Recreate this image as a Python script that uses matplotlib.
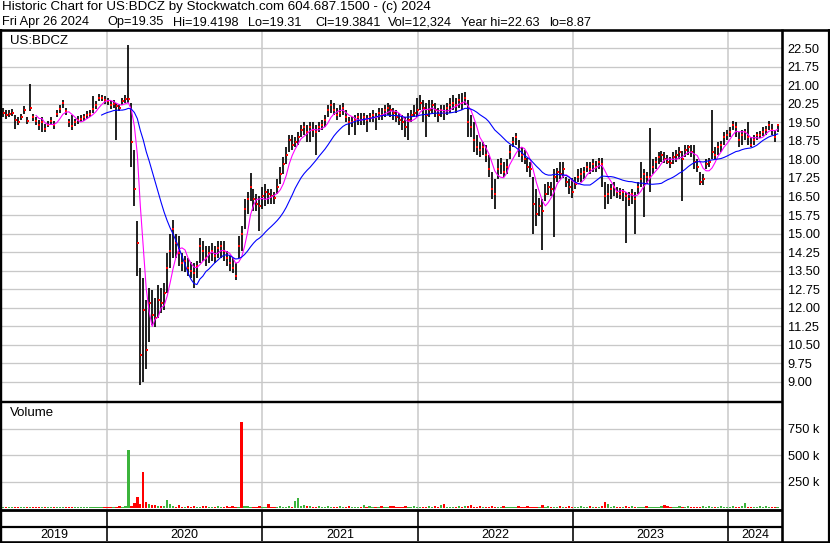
import numpy as np
import pandas as pd
import matplotlib
matplotlib.use("Agg")
import matplotlib.pyplot as plt
import matplotlib.dates as mdates

plt.rcParams['font.family'] = ['Liberation Sans', 'DejaVu Sans']

# ---------------- data (weekly) ----------------
first_week = "2019-05-03"

closes = [
    19.9, 19.8, 19.85, 19.9, 19.6, 19.5, 19.7, 20.0, 19.55, 20.1,
    19.7, 19.55, 19.4, 19.5, 19.25, 19.4, 19.55, 19.4, 19.85, 20.05,
    20.3, 19.95, 19.5, 19.35, 19.5, 19.6, 19.65, 19.7, 19.8, 19.85,
    20.05, 20.2, 20.5, 20.5, 20.4, 20.35, 20.2, 20.25, 20.15, 20.1,
    20.35, 20.45, 20.45, 18.7, 16.8, 14.6, 10.1, 11.9, 10.3, 12.2,
    11.7, 11.6, 12.3, 12.2, 12.6, 13.6, 14.3, 15.2, 14.6, 14.2,
    13.8, 13.9, 13.6, 13.5, 13.4, 13.7, 14.5, 14.3, 14.0, 14.2,
    14.3, 14.1, 14.4, 14.5, 14.3, 14.0, 13.8, 13.6, 13.3, 14.5,
    15.0, 16.0, 16.4, 16.9, 16.4, 16.2, 16.1, 16.5, 16.7, 16.6,
    16.5, 16.45, 16.9, 17.4, 17.8, 18.2, 18.8, 18.6, 18.7, 18.9,
    19.2, 19.3, 19.1, 19.3, 19.2, 19.1, 19.3, 19.4, 19.6, 20.0,
    20.2, 20.0, 19.8, 19.9, 20.1, 19.7, 19.5, 19.5, 19.6, 19.7,
    19.6, 19.7, 19.6, 19.7, 19.8, 19.7, 19.9, 19.8, 20.0, 20.1,
    20.0, 19.9, 19.7, 19.6, 19.5, 19.3, 19.6, 19.8, 19.9, 20.0,
    20.3, 20.1, 19.8, 20.0, 20.2, 20.0, 19.8, 20.0, 19.9, 20.1,
    20.2, 20.3, 20.2, 20.4, 20.3, 20.5, 19.5, 19.3, 18.8, 18.5,
    18.4, 18.5, 18.2, 17.6, 16.8, 16.6, 17.6, 17.8, 17.5, 17.7,
    18.3, 18.7, 18.9, 18.4, 18.2, 18.0, 17.7, 17.6, 16.2, 15.8,
    16.1, 15.9, 16.6, 16.9, 16.8, 17.3, 17.5, 17.4, 17.6, 17.1,
    16.9, 16.7, 17.0, 17.3, 17.4, 17.5, 17.7, 17.6, 17.8, 17.7,
    17.9, 17.8, 16.5, 16.6, 16.8, 16.9, 16.7, 16.6, 16.7, 16.5,
    16.4, 16.6, 16.4, 16.9, 17.2, 17.4, 17.3, 17.3, 17.7, 17.9,
    18.1, 18.2, 18.0, 17.9, 17.85, 18.1, 18.2, 18.3, 18.0, 18.4,
    18.5, 18.3, 17.9, 17.7, 17.1, 17.2, 17.8, 17.9, 18.3, 18.2,
    18.5, 18.6, 18.9, 19.0, 19.1, 19.4, 19.3, 18.8, 19.0, 19.1,
    18.9, 18.6, 18.8, 19.0, 19.0, 19.1, 19.2, 19.4, 19.2, 18.9,
    19.38,
]

highs = [
    20.1, 20.0, 20.0, 20.05, 19.8, 19.7, 19.85, 20.15, 19.7, 21.05,
    19.85, 19.7, 19.6, 19.7, 19.45, 19.55, 19.7, 19.55, 20.0, 20.2,
    20.4, 20.1, 19.65, 19.8, 19.65, 19.75, 19.8, 19.85, 19.95, 20.0,
    20.57, 20.35, 20.65, 20.6, 20.55, 20.5, 20.35, 20.4, 20.3, 20.25,
    20.5, 20.6, 22.63, 20.3, 18.4, 15.5, 13.6, 13.2, 12.3, 12.8,
    12.7, 12.4, 12.9, 12.8, 13.0, 14.2, 15.0, 15.55, 15.0, 14.9,
    14.2, 14.1, 14.0, 13.85, 13.8, 13.9, 14.8, 14.7, 14.5, 14.5,
    14.6, 14.5, 14.7, 14.7, 14.7, 14.3, 14.1, 14.0, 13.8, 14.9,
    15.3, 16.4, 16.7, 17.45, 16.8, 16.6, 16.5, 16.9, 17.0, 16.8,
    16.8, 16.7, 17.2, 17.7, 18.1, 18.5, 19.0, 19.0, 18.9, 19.1,
    19.4, 19.5, 19.4, 19.5, 19.5, 19.4, 19.5, 19.6, 19.8, 20.2,
    20.4, 20.3, 20.1, 20.2, 20.3, 20.0, 19.7, 19.7, 19.8, 19.9,
    19.9, 19.9, 19.8, 19.9, 20.0, 19.9, 20.1, 20.1, 20.2, 20.3,
    20.2, 20.1, 20.0, 19.9, 19.8, 19.7, 19.9, 20.0, 20.2, 20.5,
    20.6, 20.4, 20.3, 20.4, 20.4, 20.3, 20.1, 20.2, 20.2, 20.3,
    20.5, 20.6, 20.5, 20.65, 20.7, 20.75, 20.4, 19.8, 19.5, 19.0,
    18.7, 18.7, 18.6, 18.2, 17.5, 17.2, 18.0, 18.05, 17.9, 18.0,
    18.6, 18.9, 19.07, 18.8, 18.5, 18.4, 18.05, 17.9, 17.3, 16.8,
    16.45, 16.4, 17.0, 17.1, 17.1, 17.6, 17.65, 17.9, 17.9, 17.3,
    17.2, 17.25, 17.3, 17.6, 17.65, 17.7, 17.9, 17.9, 18.0, 17.95,
    18.05, 18.05, 17.1, 17.0, 17.0, 17.1, 16.9, 16.85, 16.8, 16.7,
    16.7, 16.8, 16.7, 17.1, 17.9, 17.6, 17.5, 19.27, 18.0, 18.1,
    18.3, 18.35, 18.3, 18.2, 18.1, 18.3, 18.4, 18.5, 18.35, 18.6,
    18.6, 18.6, 18.58, 18.0, 17.5, 17.4, 18.0, 18.05, 20.0, 18.5,
    18.7, 18.75, 19.1, 19.2, 19.3, 19.55, 19.5, 19.1, 19.2, 19.25,
    19.5, 18.9, 19.0, 19.1, 19.15, 19.3, 19.35, 19.55, 19.45, 19.2,
    19.42,
]

lows = [
    19.7, 19.65, 19.7, 19.75, 19.25, 19.4, 19.6, 19.85, 19.45, 19.95,
    19.55, 19.4, 19.2, 19.1, 19.1, 19.3, 19.4, 19.25, 19.7, 19.9,
    20.1, 19.8, 19.3, 19.2, 19.35, 19.45, 19.5, 19.55, 19.65, 19.7,
    19.9, 20.05, 20.35, 20.35, 20.25, 20.2, 20.05, 20.1, 18.79, 19.95,
    20.2, 20.3, 20.3, 17.7, 16.1, 13.3, 8.87, 9.0, 9.5, 10.6,
    11.3, 11.2, 11.6, 11.8, 11.9, 12.6, 13.6, 14.0, 14.0, 13.7,
    13.5, 13.45, 13.3, 13.2, 12.8, 13.2, 13.8, 13.9, 13.7, 13.8,
    13.9, 13.8, 14.0, 14.0, 13.9, 13.7, 13.5, 13.4, 13.1, 14.0,
    14.3, 15.2, 15.8, 16.3, 15.9, 15.9, 15.1, 16.0, 16.1, 16.2,
    16.2, 16.2, 16.6, 17.0, 17.4, 17.8, 18.3, 18.4, 18.5, 18.6,
    18.9, 19.0, 18.7, 18.7, 18.9, 18.2, 19.1, 19.2, 19.3, 19.7,
    19.9, 19.8, 19.6, 19.7, 19.8, 19.5, 19.0, 19.3, 19.0, 19.4,
    19.4, 19.4, 19.1, 19.5, 19.5, 19.2, 19.6, 19.6, 19.7, 19.8,
    19.7, 19.6, 19.5, 19.4, 19.2, 18.9, 18.8, 19.5, 19.7, 19.7,
    20.0, 19.5, 18.9, 19.7, 19.9, 19.7, 19.5, 19.7, 19.6, 19.8,
    19.9, 20.0, 19.9, 20.1, 20.0, 20.2, 18.9, 18.9, 18.3, 18.2,
    18.1, 18.2, 17.9, 17.3, 16.4, 16.0, 17.2, 17.4, 17.3, 17.4,
    18.0, 18.5, 18.6, 18.1, 17.9, 17.8, 17.5, 17.3, 15.0, 15.3,
    15.7, 14.35, 16.3, 16.55, 16.5, 14.85, 17.1, 17.2, 17.25, 16.9,
    16.6, 16.45, 16.8, 17.1, 17.1, 17.2, 17.5, 17.4, 17.5, 17.5,
    17.6, 16.9, 16.0, 16.2, 16.4, 16.5, 16.45, 16.4, 16.3, 14.6,
    16.1, 16.2, 15.0, 16.6, 16.9, 15.67, 17.0, 16.7, 17.4, 17.6,
    17.8, 17.9, 17.85, 17.8, 17.65, 17.8, 17.9, 18.0, 16.3, 18.1,
    18.2, 18.1, 17.6, 17.5, 16.95, 16.95, 17.6, 17.7, 18.0, 18.0,
    18.2, 18.3, 18.6, 18.8, 18.9, 19.2, 18.9, 18.5, 18.6, 18.8,
    18.6, 18.5, 18.6, 18.8, 18.85, 18.95, 19.0, 19.2, 19.0, 18.7,
    19.1,
]

# daily-peak volumes shown per week, in thousands of shares
volumes_k = [
    8, 6, 10, 12, 9, 7, 11, 8, 10, 9,
    12, 7, 9, 11, 8, 10, 6, 9, 12, 8,
    7, 10, 9, 11, 8, 6, 10, 9, 7, 12,
    10, 8, 9, 11, 10, 12, 9, 14, 10, 18,
    11, 15, 551, 20, 51, 108, 40, 340, 60, 35,
    25, 30, 22, 18, 20, 80, 35, 15, 12, 25,
    14, 10, 16, 12, 18, 11, 13, 15, 20, 12,
    14, 10, 16, 13, 11, 18, 12, 15, 10, 14,
    811, 20, 15, 12, 14, 11, 16, 13, 12, 35,
    14, 12, 10, 15, 11, 13, 16, 12, 70, 98,
    20, 25, 15, 22, 14, 12, 16, 11, 13, 15,
    12, 14, 10, 16, 13, 11, 15, 12, 14, 10,
    13, 25, 12, 15, 11, 14, 10, 16, 12, 13,
    15, 20, 11, 14, 12, 16, 10, 13, 15, 12,
    14, 11, 13, 16, 12, 15, 10, 30, 40, 13,
    11, 14, 12, 16, 13, 15, 20, 30, 12, 14,
    16, 11, 13, 12, 15, 14, 10, 13, 16, 12,
    11, 14, 12, 15, 13, 10, 16, 12, 14, 11,
    13, 25, 12, 15, 11, 14, 10, 16, 12, 13,
    15, 11, 14, 12, 16, 10, 13, 15, 12, 14,
    11, 20, 54, 38, 12, 15, 11, 14, 13, 16,
    12, 15, 11, 14, 13, 10, 16, 12, 14, 11,
    13, 15, 25, 20, 12, 14, 11, 16, 13, 10,
    15, 12, 14, 11, 13, 16, 12, 20, 14, 11,
    13, 15, 12, 14, 11, 16, 13, 10, 15, 45,
    12, 14, 11, 13, 16, 12, 20, 14, 11, 13,
    12,
]
red_volume_weeks = [47, 80]          # big down-day spikes

fast_ma_weeks, slow_ma_weeks = 5, 20
fast_ma_first, slow_ma_first = 11, 33   # first week each average is shown

price_ticks = [9.00, 9.75, 10.50, 11.25, 12.00, 12.75, 13.50, 14.25, 15.00, 15.75,
               16.50, 17.25, 18.00, 18.75, 19.50, 20.25, 21.00, 21.75, 22.50]
volume_ticks = [250000, 500000, 750000]
volume_tick_labels = ["250 k", "500 k", "750 k"]
years = [2019, 2020, 2021, 2022, 2023, 2024]

header1 = "Historic Chart for US:BDCZ by Stockwatch.com 604.687.1500 - (c) 2024"
header2_fields = ["Fri Apr 26 2024", "Op=19.35", "Hi=19.4198", "Lo=19.31",
                  "Cl=19.3841", "Vol=12,324", "Year hi=22.63", "lo=8.87"]
symbol = "US:BDCZ"

# ---------------- derived series ----------------
dates = pd.date_range(first_week, periods=len(closes), freq="7D")
xd = mdates.date2num(dates.to_pydatetime())
c = pd.Series(closes)
ma_fast = c.rolling(fast_ma_weeks).mean()
ma_slow = c.rolling(slow_ma_weeks).mean()
ma_fast[:fast_ma_first] = np.nan
ma_slow[:slow_ma_first] = np.nan
up = np.r_[True, np.diff(closes) >= 0]
vol_colors = np.where(up, "#3cb43c", "#ff0000")
for i in red_volume_weeks:
    vol_colors[i] = "#ff0000"
vols = np.array(volumes_k) * 1000.0

# ---------------- layout (pixels) ----------------
W, H = 830, 543
fig = plt.figure(figsize=(W / 100, H / 100), dpi=100)
fig.patch.set_facecolor("white")

def rect(x0, y0, x1, y1):
    return [x0 / W, 1 - y1 / H, (x1 - x0) / W, (y1 - y0) / H]

AX_L, AX_R = 1, 782
d2020 = mdates.date2num(pd.Timestamp("2020-01-01").to_pydatetime())
ppd = 0.42546
xlim = (d2020 - (106.7 - AX_L) / ppd, d2020 + (AX_R - 106.7) / ppd)
grid_c = "#c8c8c8"
px = 0.72  # points per pixel
year_bounds = [mdates.date2num(pd.Timestamp(f"{y}-01-01").to_pydatetime()) for y in years[1:]]

# price panel
P_TOP, P_BOT = 31, 401
ax = fig.add_axes(rect(AX_L, P_TOP, AX_R, P_BOT))
ax.set_xlim(*xlim)
ax.set_ylim(22.5 - (P_BOT - 48.3) / 24.7, 22.5 + (48.3 - P_TOP) / 24.7)
for s in ax.spines.values():
    s.set_visible(False)
ax.set_xticks([])
ax.yaxis.tick_right()
ax.set_yticks(price_ticks)
ax.set_yticklabels([f"{t:.2f}" for t in price_ticks])
ax.tick_params(axis="y", length=0, pad=4, labelsize=9.2)
for t in price_ticks:
    ax.axhline(t, color=grid_c, lw=1.3 * px, zorder=0)
for b in year_bounds:
    ax.axvline(b, color=grid_c, lw=1.5 * px, zorder=0)
ax.vlines(xd, lows, highs, color="black", lw=1.7 * px, zorder=2)
ax.plot(xd + 0.9, closes, "s", color="red", ms=2.6 * px, mew=0, zorder=3)
ax.plot(xd, ma_fast, color="#ff00ff", lw=1.1 * px, zorder=4)
ax.plot(xd, ma_slow, color="#0000ff", lw=1.1 * px, zorder=4)
ax.text(9 / (AX_R - AX_L), 1 - (41.5 - P_TOP) / (P_BOT - P_TOP), symbol,
        transform=ax.transAxes, fontsize=9.5, va="center", ha="left")

# volume panel (zero at y=508 px, 750k at y=428.5 px)
V_TOP, V_BOT = 402, 509
vpp = 750000 / 79.5
axv = fig.add_axes(rect(AX_L, V_TOP, AX_R, V_BOT))
axv.set_xlim(*xlim)
axv.set_ylim(-(V_BOT - 508) * vpp, (508 - V_TOP) * vpp)
for s in axv.spines.values():
    s.set_visible(False)
axv.set_xticks([])
axv.yaxis.tick_right()
axv.set_yticks(volume_ticks)
axv.set_yticklabels(volume_tick_labels)
axv.tick_params(axis="y", length=0, pad=4, labelsize=9.2)
for t in volume_ticks:
    axv.axhline(t, color=grid_c, lw=1.3 * px, zorder=0)
for b in year_bounds:
    axv.axvline(b, color=grid_c, lw=1.5 * px, zorder=0)
axv.bar(xd, vols, width=5.5, color=vol_colors, linewidth=0, zorder=2)
axv.text(9 / (AX_R - AX_L), 1 - (413 - V_TOP) / (V_BOT - V_TOP), "Volume",
         transform=axv.transAxes, fontsize=9.5, va="center", ha="left")

# year strip
Y_TOP, Y_BOT = 510, 541
axy = fig.add_axes(rect(AX_L, Y_TOP, AX_R, Y_BOT))
axy.set_xlim(*xlim)
axy.set_ylim(Y_BOT, Y_TOP)
axy.axis("off")
for b in year_bounds:
    axy.axvline(b, color="black", lw=1.6 * px)
edges = [xlim[0]] + year_bounds + [xlim[1]]
for y, a, b in zip(years, edges[:-1], edges[1:]):
    axy.text((a + b) / 2, 534.5, str(y), ha="center", va="center", fontsize=9.0)

# frame lines in pixel space
ov = fig.add_axes([0, 0, 1, 1], zorder=10)
ov.set_xlim(0, W)
ov.set_ylim(H, 0)
ov.axis("off")
ov.patch.set_alpha(0)
lk = dict(color="black", solid_capstyle="butt")
ov.plot([0, W], [30, 30], lw=2.6 * px, **lk)
ov.plot([1, 1], [29, H], lw=2.4 * px, **lk)
ov.plot([828.5, 828.5], [29, H], lw=2.2 * px, **lk)
ov.plot([782, 782], [29, H], lw=2.6 * px, **lk)
ov.plot([0, 782], [401.5, 401.5], lw=2.4 * px, **lk)
ov.plot([0, 782], [510, 510], lw=2.8 * px, **lk)
ov.plot([0, 782], [527, 527], lw=2.2 * px, **lk)
ov.plot([0, W], [541.5, 541.5], lw=2.6 * px, **lk)
ov.text(2, 10, header1, fontsize=9.6, ha="left", va="baseline")
field_x = [2, 107, 173, 248, 315, 388, 461, 549]
for fx_, txt in zip(field_x, header2_fields):
    ov.text(fx_, 25.5, txt, fontsize=9.2, ha="left", va="baseline")

fig.savefig("out.png", dpi=100)
